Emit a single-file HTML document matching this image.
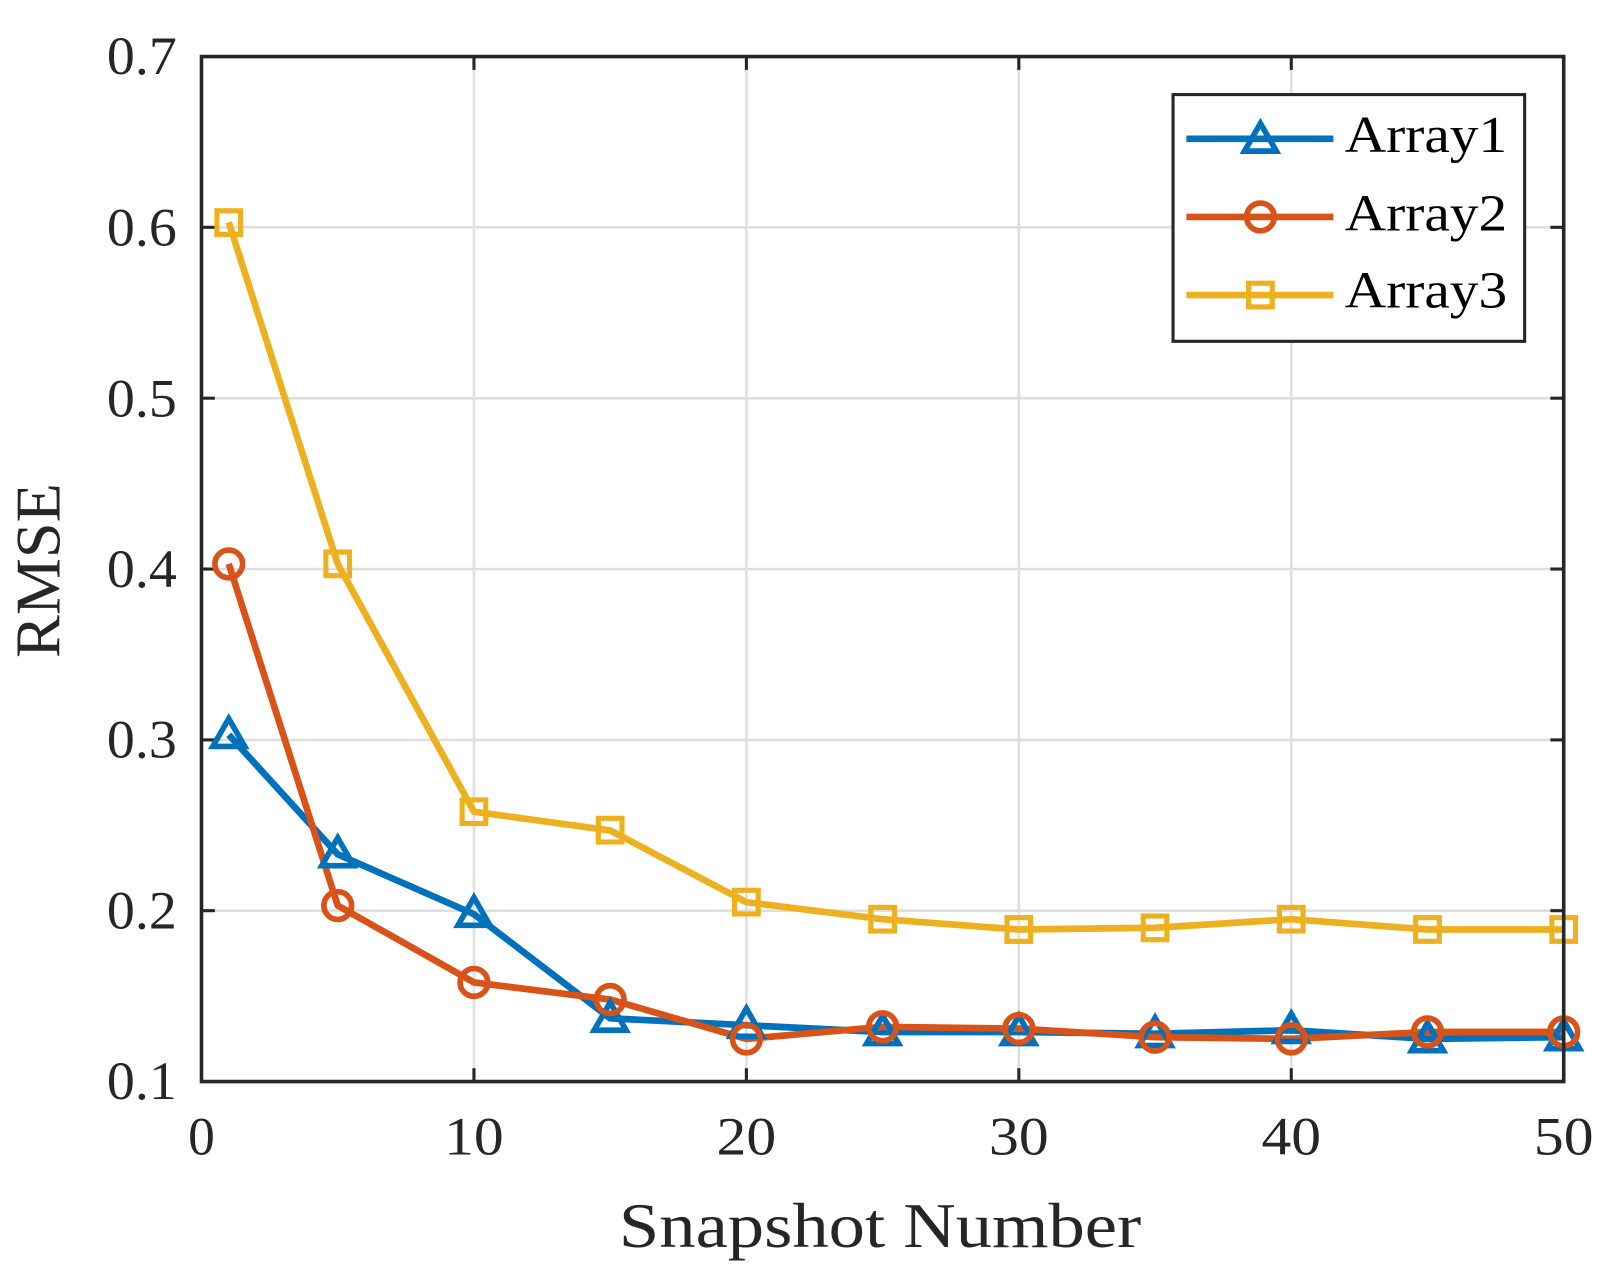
<!DOCTYPE html>
<html><head><style>html,body{margin:0;padding:0;background:#fff}svg{display:block}</style></head>
<body>
<svg width="1611" height="1281" viewBox="0 0 1567 1246" preserveAspectRatio="none" xmlns="http://www.w3.org/2000/svg" font-family="Liberation Serif, serif" fill="#262626">
<rect width="1567" height="1246" fill="#fff"/>
<g stroke="#dfdfdf" stroke-width="2.5">
<line x1="461" y1="55" x2="461" y2="1052"/><line x1="726" y1="55" x2="726" y2="1052"/><line x1="991" y1="55" x2="991" y2="1052"/><line x1="1256" y1="55" x2="1256" y2="1052"/>
<line x1="196" y1="885.8" x2="1521" y2="885.8"/><line x1="196" y1="719.7" x2="1521" y2="719.7"/><line x1="196" y1="553.5" x2="1521" y2="553.5"/><line x1="196" y1="387.3" x2="1521" y2="387.3"/><line x1="196" y1="221.1" x2="1521" y2="221.1"/>
</g>
<g stroke="#262626" stroke-width="3">
<line x1="461" y1="1052" x2="461" y2="1039"/><line x1="726" y1="1052" x2="726" y2="1039"/><line x1="991" y1="1052" x2="991" y2="1039"/><line x1="1256" y1="1052" x2="1256" y2="1039"/>
<line x1="461" y1="55" x2="461" y2="68"/><line x1="726" y1="55" x2="726" y2="68"/><line x1="991" y1="55" x2="991" y2="68"/><line x1="1256" y1="55" x2="1256" y2="68"/>
<line x1="196" y1="885.8" x2="209" y2="885.8"/><line x1="196" y1="719.7" x2="209" y2="719.7"/><line x1="196" y1="553.5" x2="209" y2="553.5"/><line x1="196" y1="387.3" x2="209" y2="387.3"/><line x1="196" y1="221.1" x2="209" y2="221.1"/>
<line x1="1521" y1="885.8" x2="1508" y2="885.8"/><line x1="1521" y1="719.7" x2="1508" y2="719.7"/><line x1="1521" y1="553.5" x2="1508" y2="553.5"/><line x1="1521" y1="387.3" x2="1508" y2="387.3"/><line x1="1521" y1="221.1" x2="1508" y2="221.1"/>
</g>
<g fill="none" stroke-width="6.5" stroke-linejoin="round">
<polyline stroke="#EDB120" points="222.5,216.2 328.5,548.5 461,789.5 593.5,807.7 726,877.5 858.5,894.1 991,904.1 1123.5,902.4 1256,894.1 1388.5,904.1 1521,904.1"/>
<polyline stroke="#0072BD" points="222.5,714.7 328.5,831 461,889.2 593.5,990.5 726,997.2 858.5,1003.8 991,1003.8 1123.5,1005.5 1256,1002.1 1388.5,1010.5 1521,1008.8"/>
<polyline stroke="#D95319" points="222.5,548.5 328.5,880.8 461,955.6 593.5,972.2 726,1010.5 858.5,998.8 991,1000.5 1123.5,1008.8 1256,1010.5 1388.5,1003.8 1521,1003.8"/>
</g>
<g fill="none" stroke="#EDB120" stroke-width="5">
<rect x="211" y="205" width="23" height="23"/><rect x="317" y="537" width="23" height="23"/><rect x="449.5" y="778" width="23" height="23"/><rect x="582" y="796" width="23" height="23"/><rect x="714.5" y="866" width="23" height="23"/><rect x="847" y="882.6" width="23" height="23"/><rect x="979.5" y="892.6" width="23" height="23"/><rect x="1112" y="891" width="23" height="23"/><rect x="1244.5" y="882.6" width="23" height="23"/><rect x="1377" y="892.6" width="23" height="23"/><rect x="1509.5" y="892.6" width="23" height="23"/>
</g>
<g fill="none" stroke="#0072BD" stroke-width="5.5" stroke-linejoin="miter">
<polygon points="222.5,699 207,726 238,726"/><polygon points="328.5,815 313,842 344,842"/><polygon points="461,873 445.5,900 476.5,900"/><polygon points="593.5,975 578,1002 609,1002"/><polygon points="726,981 710.5,1008 741.5,1008"/><polygon points="858.5,988 843,1015 874,1015"/><polygon points="991,988 975.5,1015 1006.5,1015"/><polygon points="1123.5,990 1108,1017 1139,1017"/><polygon points="1256,986 1240.5,1013 1271.5,1013"/><polygon points="1388.5,995 1373,1022 1404,1022"/><polygon points="1521,993 1505.5,1020 1536.5,1020"/>
</g>
<g fill="none" stroke="#D95319" stroke-width="5.5">
<circle cx="222.5" cy="548.5" r="13.5"/><circle cx="328.5" cy="880.8" r="13.5"/><circle cx="461" cy="955.6" r="13.5"/><circle cx="593.5" cy="972.2" r="13.5"/><circle cx="726" cy="1010.5" r="13.5"/><circle cx="858.5" cy="998.8" r="13.5"/><circle cx="991" cy="1000.5" r="13.5"/><circle cx="1123.5" cy="1008.8" r="13.5"/><circle cx="1256" cy="1010.5" r="13.5"/><circle cx="1388.5" cy="1003.8" r="13.5"/><circle cx="1521" cy="1003.8" r="13.5"/>
</g>
<rect x="196" y="55" width="1325" height="997" fill="none" stroke="#262626" stroke-width="3.5"/>
<g font-size="52" text-anchor="middle" lengthAdjust="spacingAndGlyphs">
<text x="196" y="1123">0</text><text x="461" y="1123" textLength="58" lengthAdjust="spacingAndGlyphs">10</text><text x="726" y="1123" textLength="58" lengthAdjust="spacingAndGlyphs">20</text><text x="991" y="1123" textLength="58" lengthAdjust="spacingAndGlyphs">30</text><text x="1256" y="1123" textLength="58" lengthAdjust="spacingAndGlyphs">40</text><text x="1521" y="1123" textLength="58" lengthAdjust="spacingAndGlyphs">50</text>
</g>
<g font-size="52">
<text x="104" y="1069" textLength="68" lengthAdjust="spacingAndGlyphs">0.1</text><text x="104" y="903" textLength="68" lengthAdjust="spacingAndGlyphs">0.2</text><text x="104" y="737" textLength="68" lengthAdjust="spacingAndGlyphs">0.3</text><text x="104" y="571" textLength="68" lengthAdjust="spacingAndGlyphs">0.4</text><text x="104" y="405" textLength="68" lengthAdjust="spacingAndGlyphs">0.5</text><text x="104" y="239" textLength="68" lengthAdjust="spacingAndGlyphs">0.6</text><text x="104" y="72" textLength="68" lengthAdjust="spacingAndGlyphs">0.7</text>
</g>
<text x="602" y="1213" font-size="62" textLength="508" lengthAdjust="spacingAndGlyphs">Snapshot Number</text>
<text transform="translate(58,640) rotate(-90)" font-size="62" textLength="170" lengthAdjust="spacingAndGlyphs">RMSE</text>
<rect x="1141" y="92" width="342" height="240" fill="#fff" stroke="#262626" stroke-width="3"/>
<line x1="1154" y1="135" x2="1297" y2="135" stroke="#0072BD" stroke-width="6.5"/>
<polygon points="1226,120 1210.5,147 1241.5,147" fill="none" stroke="#0072BD" stroke-width="5.5"/>
<line x1="1154" y1="211" x2="1297" y2="211" stroke="#D95319" stroke-width="6.5"/>
<circle cx="1226" cy="211" r="13.5" fill="none" stroke="#D95319" stroke-width="5.5"/>
<line x1="1154" y1="287" x2="1297" y2="287" stroke="#EDB120" stroke-width="6.5"/>
<rect x="1214.5" y="275.5" width="23" height="23" fill="none" stroke="#EDB120" stroke-width="5"/>
<g font-size="50" fill="#000">
<text x="1308" y="148" textLength="158" lengthAdjust="spacingAndGlyphs">Array1</text><text x="1308" y="224" textLength="158" lengthAdjust="spacingAndGlyphs">Array2</text><text x="1308" y="299" textLength="158" lengthAdjust="spacingAndGlyphs">Array3</text>
</g>
</svg>
</body></html>
